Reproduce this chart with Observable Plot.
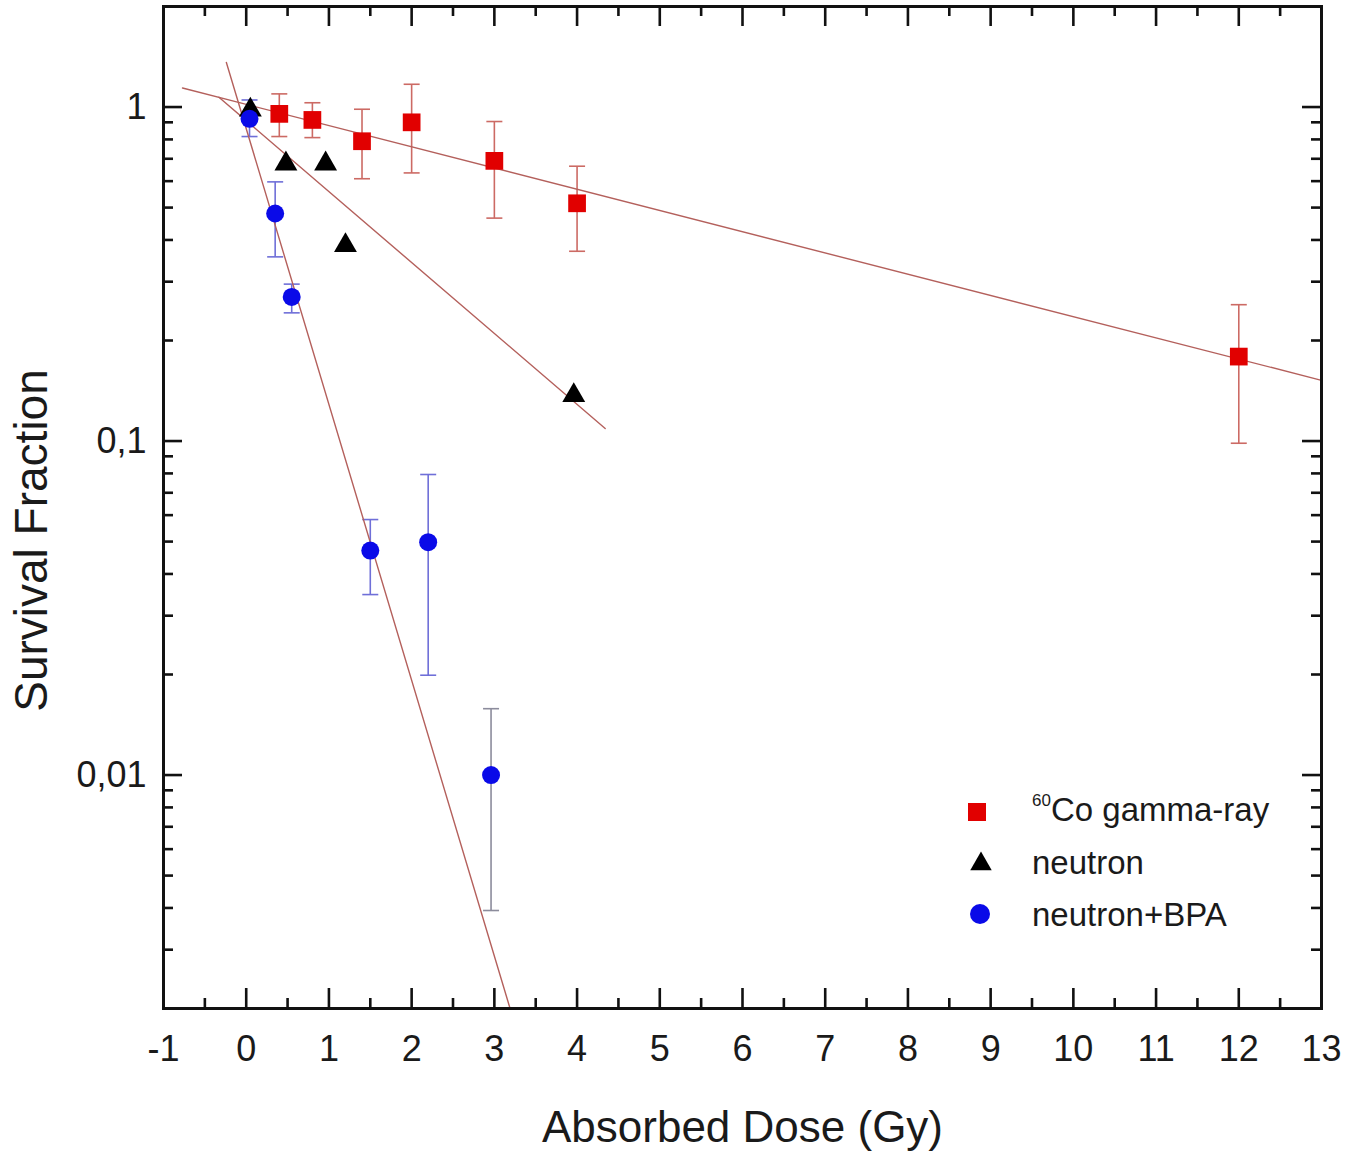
<!DOCTYPE html>
<html><head><meta charset="utf-8">
<script src="https://cdn.jsdelivr.net/npm/d3@7"></script>
<script src="https://cdn.jsdelivr.net/npm/@observablehq/plot@0.6"></script>
<style>
body{margin:0;background:#fff;font-family:"Liberation Sans",Arial,sans-serif;}
#wrap{position:relative;width:1345px;height:1151px;}
.leg{position:absolute;font-size:33px;color:#1a1a1a;line-height:1;white-space:nowrap;}
.leg sup{font-size:17px;vertical-align:0;position:relative;top:-15px;}
.sym{position:absolute;}
</style></head><body><div id="wrap"></div>
<script>
// ---- data ----
const gammaDose = [0.4, 0.8, 1.4, 2.0, 3.0, 4.0, 12.0];
const gammaSF   = [0.954, 0.915, 0.79, 0.90, 0.69, 0.515, 0.179];
const gammaLo   = [0.816, 0.81, 0.61, 0.635, 0.465, 0.37, 0.0985];
const gammaHi   = [1.095, 1.03, 0.985, 1.17, 0.905, 0.665, 0.256];

const neutronDose = [0.05, 0.48, 0.96, 1.2, 3.96];
const neutronSF   = [0.98, 0.676, 0.676, 0.385, 0.137];

const bpaDose = [0.04, 0.35, 0.55, 1.5, 2.2, 2.96];
const bpaSF   = [0.922, 0.48, 0.27, 0.047, 0.0498, 0.0100];
const bpaLo   = [0.816, 0.356, 0.242, 0.0347, 0.0199, 0.00393];
const bpaHi   = [1.05, 0.597, 0.295, 0.0582, 0.0794, 0.0158];
const bpaBarColor = ["#6f6fd8", "#6f6fd8", "#6f6fd8", "#6f6fd8", "#6f6fd8", "#8c8c9c"];

// fitted lines (end points)
const gammaFitDose = [-0.77, 13];
const gammaFitSF   = [1.14, 0.152];
const neutronFitDose = [-0.33, 4.34];
const neutronFitSF   = [1.07, 0.109];
const bpaFitDose = [-0.24, 3.19];
const bpaFitSF   = [1.36, 0.002];

// ticks
const xMajor = [-1,0,1,2,3,4,5,6,7,8,9,10,11,12,13];
const xMinor = [-0.5,0.5,1.5,2.5,3.5,4.5,5.5,6.5,7.5,8.5,9.5,10.5,11.5,12.5];
const yMajor = [1, 0.1, 0.01];
const yMajorLabels = ["1", "0,1", "0,01"];
const yMinor = [0.003,0.004,0.005,0.006,0.007,0.008,0.009,
                0.02,0.03,0.04,0.05,0.06,0.07,0.08,0.09,
                0.2,0.3,0.4,0.5,0.6,0.7,0.8,0.9,2];

const xLabel = "Absorbed Dose (Gy)";
const yLabel = "Survival Fraction";
const seriesNames = ["Co gamma-ray", "neutron", "neutron+BPA"];

// ---- tables ----
const gamma = gammaDose.map((d,i)=>({d, s:gammaSF[i], lo:gammaLo[i], hi:gammaHi[i]}));
const neutron = neutronDose.map((d,i)=>({d, s:neutronSF[i]}));
const bpa = bpaDose.map((d,i)=>({d, s:bpaSF[i], lo:bpaLo[i], hi:bpaHi[i], c:bpaBarColor[i]}));
const gammaFit = gammaFitDose.map((d,i)=>({d, s:gammaFitSF[i]}));
const neutronFit = neutronFitDose.map((d,i)=>({d, s:neutronFitSF[i]}));
const bpaFit = bpaFitDose.map((d,i)=>({d, s:bpaFitSF[i]}));

const W = 1345, H = 1151, mL = 163, mR = 24, mT = 6, mB = 143;
const innerW = W - mL - mR, innerH = H - mT - mB;
const cap = {draw(ctx, size){ const w = Math.sqrt(size/Math.PI); ctx.moveTo(-w,0); ctx.lineTo(w,0); }};

const fitColor = "#b4605c";
const redBar = "#cc6a64";
const tickW = 2.6;

const chart = Plot.plot({
  width: W, height: H,
  marginLeft: mL, marginRight: mR, marginTop: mT, marginBottom: mB,
  style: {fontFamily: '"Liberation Sans", Arial, sans-serif', color: "#1a1a1a", background: "#fff"},
  x: {domain: [-1, 13]},
  y: {type: "log", domain: [0.002, 2]},
  marks: [
    // inward ticks
    Plot.ruleX(xMajor, {x: d=>d, insetTop: innerH-20, strokeWidth: tickW, stroke: "#111"}),
    Plot.ruleX(xMajor, {x: d=>d, insetBottom: innerH-20, strokeWidth: tickW, stroke: "#111"}),
    Plot.ruleX(xMinor, {x: d=>d, insetTop: innerH-10, strokeWidth: tickW, stroke: "#111"}),
    Plot.ruleX(xMinor, {x: d=>d, insetBottom: innerH-10, strokeWidth: tickW, stroke: "#111"}),
    Plot.ruleY(yMajor, {y: d=>d, insetRight: innerW-19, strokeWidth: tickW, stroke: "#111"}),
    Plot.ruleY(yMajor, {y: d=>d, insetLeft: innerW-19, strokeWidth: tickW, stroke: "#111"}),
    Plot.ruleY(yMinor, {y: d=>d, insetRight: innerW-10, strokeWidth: tickW, stroke: "#111"}),
    Plot.ruleY(yMinor, {y: d=>d, insetLeft: innerW-10, strokeWidth: tickW, stroke: "#111"}),
    Plot.axisX({ticks: xMajor, tickSize: 0, tickPadding: 27, fontSize: 36, tickFormat: d=>String(d), label: null}),
    Plot.axisY({ticks: yMajor, tickSize: 0, tickPadding: 17, fontSize: 36, tickFormat: d=>yMajorLabels[yMajor.indexOf(d)], label: null}),
    // error bars
    Plot.link(gamma, {x1:"d", x2:"d", y1:"lo", y2:"hi", stroke: redBar, strokeWidth: 1.6}),
    Plot.dot(gamma, {x:"d", y:"lo", symbol: cap, r: 8, stroke: redBar, fill: "none", strokeWidth: 1.6}),
    Plot.dot(gamma, {x:"d", y:"hi", symbol: cap, r: 8, stroke: redBar, fill: "none", strokeWidth: 1.6}),
    Plot.link(bpa, {x1:"d", x2:"d", y1:"lo", y2:"hi", stroke: "c", strokeWidth: 1.6}),
    Plot.dot(bpa, {x:"d", y:"lo", symbol: cap, r: 8, stroke: "c", fill: "none", strokeWidth: 1.6}),
    Plot.dot(bpa, {x:"d", y:"hi", symbol: cap, r: 8, stroke: "c", fill: "none", strokeWidth: 1.6}),
    // fits
    Plot.line(gammaFit, {x:"d", y:"s", stroke: fitColor, strokeWidth: 1.4}),
    Plot.line(neutronFit, {x:"d", y:"s", stroke: fitColor, strokeWidth: 1.4}),
    Plot.line(bpaFit, {x:"d", y:"s", stroke: fitColor, strokeWidth: 1.4}),
    // points
    Plot.dot(gamma, {x:"d", y:"s", symbol: "square", r: 10, fill: "#e10000", stroke: "none"}),
    Plot.dot(neutron, {x:"d", y:"s", symbol: "triangle", r: 8.5, fill: "#000", stroke: "none"}),
    Plot.dot(bpa, {x:"d", y:"s", symbol: "circle", r: 9, fill: "#0a0ae8", stroke: "none"}),
    Plot.frame({stroke: "#111", strokeWidth: 3}),
    // axis titles
    Plot.text([xLabel], {frameAnchor: "bottom", dy: 133, lineAnchor: "bottom", textAnchor: "middle", text: d=>d, fontSize: 44, fill: "#1a1a1a"}),
    Plot.text([yLabel], {frameAnchor: "left", dx: -131, dy: 33, rotate: -90, textAnchor: "middle", lineAnchor: "middle", text: d=>d, fontSize: 46, fill: "#1a1a1a"})
  ]
});
const wrap = document.getElementById("wrap");
wrap.appendChild(chart);

// legend overlay
const legendRows = [
  {sym: "square", color: "#e10000", sx: 977, sy: 812, tx: 1032, base: 820, label: seriesNames[0], sup: "60"},
  {sym: "triangle", color: "#000", sx: 981, sy: 864, tx: 1032, base: 873, label: seriesNames[1]},
  {sym: "circle", color: "#0a0ae8", sx: 980, sy: 914, tx: 1032, base: 925, label: seriesNames[2]}
];
legendRows.forEach(r => {
  const svg = d3.select(wrap).append("svg").attr("class","sym")
    .attr("width", 30).attr("height", 30)
    .style("left", (r.sx-15)+"px").style("top", (r.sy-15)+"px");
  const type = r.sym==="square" ? d3.symbolSquare : r.sym==="triangle" ? d3.symbolTriangle : d3.symbolCircle;
  const size = r.sym==="square" ? 324 : r.sym==="triangle" ? 200 : Math.PI*100;
  svg.append("path").attr("transform","translate(15,15)").attr("d", d3.symbol(type, size)()).attr("fill", r.color);
  const div = d3.select(wrap).append("div").attr("class","leg")
    .style("left", r.tx+"px").style("top", (r.base-27)+"px");
  if (r.sup) div.append("sup").text(r.sup);
  div.append("span").text(r.label);
});
</script>
</body></html>
